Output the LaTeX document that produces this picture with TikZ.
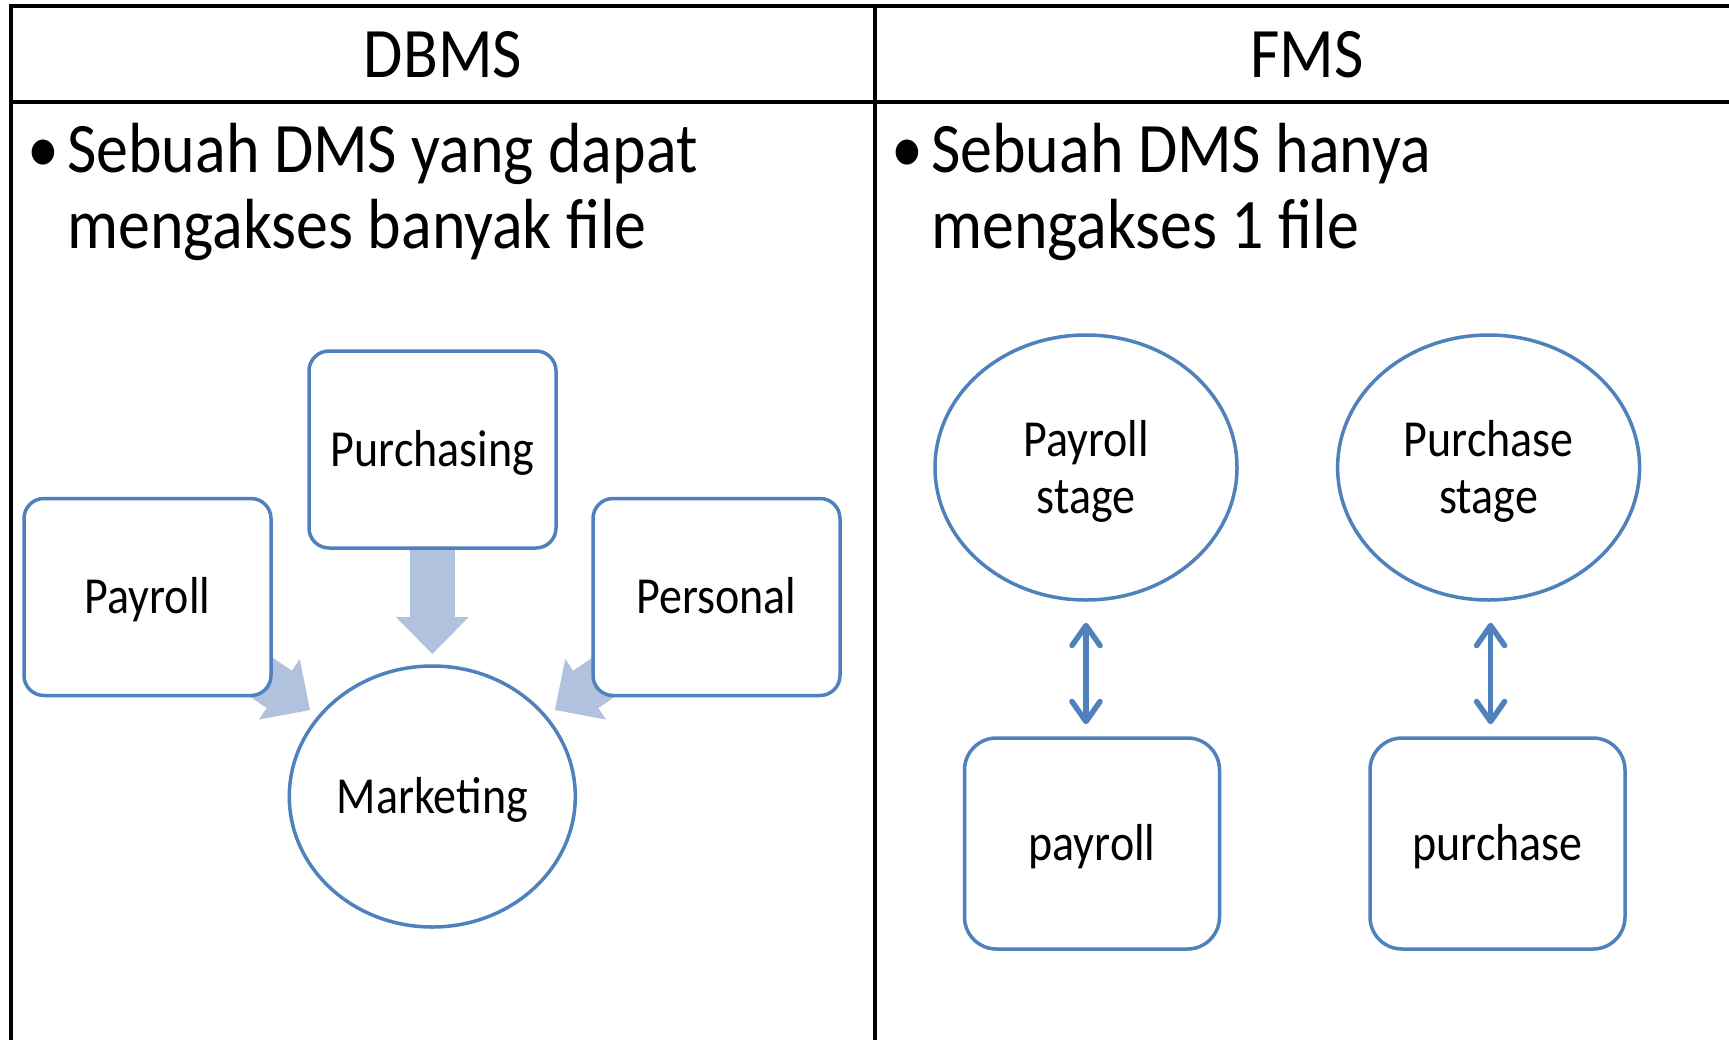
\documentclass[tikz,border=0pt]{standalone}
\usepackage{fontspec}
\setmainfont{Carlito}[FakeStretch=0.885]
\newfontfamily\widerfont{Carlito}[FakeStretch=0.9]
\usetikzlibrary{arrows.meta,shapes.geometric,calc}
\definecolor{boxblue}{HTML}{4F81BD}
\definecolor{arrowfill}{HTML}{B0C2DE}

\begin{document}
\begin{tikzpicture}[x=1pt,y=-1pt,
  rule/.style={line width=4pt, black},
  bigtext/.style={font=\widerfont\fontsize{71}{75}\selectfont, inner sep=0pt},
  smalltext/.style={font=\fontsize{52}{57}\selectfont, inner sep=0pt},
  capcentre/.style={text height=33.5pt, text depth=0pt},
  sqbox/.style={draw=boxblue, line width=3.5pt, fill=white, rounded corners=20pt,
    minimum width=247pt, minimum height=197pt, smalltext, capcentre},
  filebox/.style={draw=boxblue, line width=3.5pt, fill=white, rounded corners=32pt,
    minimum width=255pt, minimum height=211pt, smalltext, capcentre},
  stageoval/.style={draw=boxblue, line width=3.5pt, fill=white, ellipse,
    minimum width=302pt, minimum height=265pt},
  hubcircle/.style={draw=boxblue, line width=3.5pt, fill=white, ellipse,
    minimum width=286pt, minimum height=261pt, smalltext, capcentre},
  link/.style={draw=boxblue, line width=5.5pt, line cap=round,
    {Straight Barb[length=20pt,width=28pt,round]}-{Straight Barb[length=20pt,width=28pt,round]}},
  fatarrow/.pic={
    \fill[arrowfill] (0,0) -- (-37,-36.5) -- (-37,-22.5) -- (-200,-22.5)
      -- (-200,22.5) -- (-37,22.5) -- (-37,36.5) -- cycle;
  }
]
% page
\fill[white] (0,0) rectangle (1729,1039);
\useasboundingbox (0,0) rectangle (1729,1039);

% table rules
\draw[rule] (1745,6) -- (11,6) -- (11,1050);
\draw[rule] (11,101.5) -- (1745,101.5);
\draw[rule] (874.7,6) -- (874.7,1050);

% column headers
\node[bigtext, anchor=base] (hdA) at (443,77) {DBMS};
\node[bigtext, anchor=base] (hdB) at (1307,77) {FMS};

% bullet texts
\node[bigtext, anchor=base west] (bulA) at (27,172) {•};
\node[bigtext, anchor=base west] (txA1) at (67,172) {Sebuah DMS yang dapat};
\node[bigtext, anchor=base west] (txA2) at (67,248) {mengakses banyak file};
\node[bigtext, anchor=base west] (bulB) at (891,172) {•};
\node[bigtext, anchor=base west] (txB1) at (931,172) {Sebuah DMS hanya};
\node[bigtext, anchor=base west] (txB2) at (931,248) {mengakses 1 file};

% converging arrows (under the boxes)
\coordinate (tipTop) at (432.3,654);
\coordinate (tipLeft) at (310,710);
\coordinate (tipRight) at (555,710);
\path (tipTop) pic[rotate=-90] {fatarrow};
\path (tipLeft) pic[rotate=-34] {fatarrow};
\path (tipRight) pic[rotate=-146] {fatarrow};

% DBMS: several applications around one store
\node[sqbox] (purch) at (432.5,449.5) {Purchasing};
\node[sqbox] (pay) at (147.5,597) {Payroll};
\node[sqbox] (pers) at (716.5,597) {Personal};
\node[hubcircle] (mkt) at (432.3,796.5) {Marketing};

% FMS: each stage with its own file
\node[stageoval] (st1) at (1086,467.5) {};
\node[stageoval] (st2) at (1488.6,467.5) {};
\node[smalltext, anchor=base] (st1a) at (1086,456.5) {Payroll};
\node[smalltext, anchor=base] (st1b) at (1086,513.5) {stage};
\node[smalltext, anchor=base] (st2a) at (1488.6,456.5) {Purchase};
\node[smalltext, anchor=base] (st2b) at (1488.6,513.5) {stage};

\node[filebox] (f1) at (1092,843.5) {payroll};
\node[filebox] (f2) at (1497.5,843.5) {purchase};

\draw[link] ($(st1.south)+(0,21)$) -- ($(st1.south |- f1.north)+(0,-12)$);
\draw[link] ($(st2.south)+(2,21)$) -- ($(st2.south |- f2.north)+(2,-12)$);
\end{tikzpicture}
\end{document}
